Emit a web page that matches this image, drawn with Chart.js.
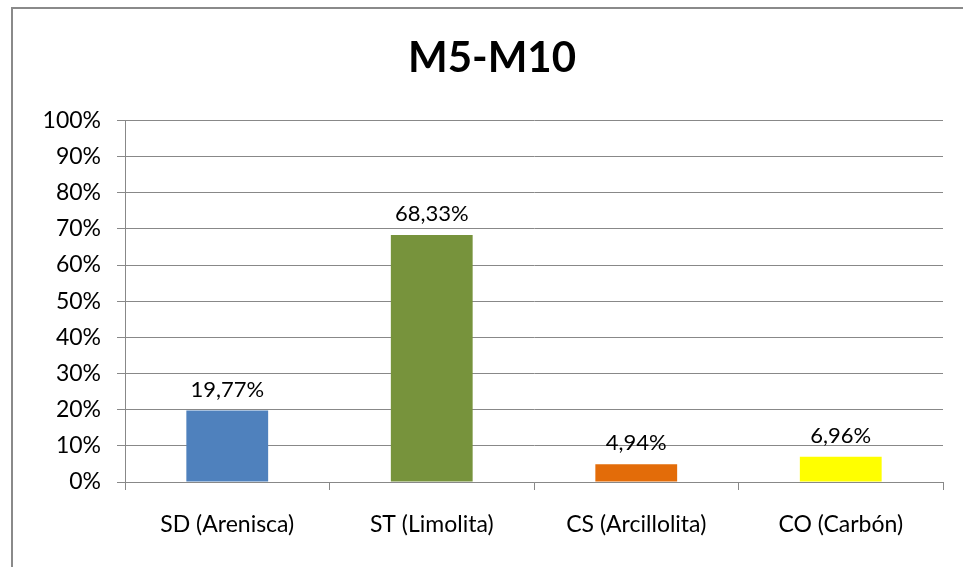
<!DOCTYPE html>
<html>
<head>
<meta charset="utf-8">
<script src="https://cdn.jsdelivr.net/npm/chart.js@4"></script>
<style>
  html, body { margin: 0; padding: 0; background: #fff; }
  #wrap { width: 963px; height: 567px; position: relative; }
</style>
</head>
<body>
<div id="wrap"><canvas id="chart" width="963" height="567"></canvas></div>
<script>
const categories = ['SD (Arenisca)', 'ST (Limolita)', 'CS (Arcillolita)', 'CO (Carbón)'];
const values = [19.77, 68.33, 4.94, 6.96];
const barColors = ['#4F81BD', '#77933C', '#E36C09', '#FFFF00'];
const yTicks = [0, 10, 20, 30, 40, 50, 60, 70, 80, 90, 100];

const fontFamily = 'Lato, "Open Sans", sans-serif';
const gridColor = '#888888';

// frame around the whole chart (the right and bottom edges fall outside the window)
const framePlugin = {
  id: 'frame',
  beforeDraw(chart) {
    const c = chart.ctx;
    c.save();
    c.fillStyle = '#fff';
    c.fillRect(0, 0, chart.width, chart.height);
    c.strokeStyle = '#8a8a8a';
    c.lineWidth = 2;
    c.strokeRect(12, 8, chart.width + 20, chart.height + 20);
    c.restore();
  }
};

// value labels above each bar
const valueLabels = {
  id: 'valueLabels',
  afterDatasetsDraw(chart) {
    const c = chart.ctx;
    const meta = chart.getDatasetMeta(0);
    c.save();
    c.font = '22px ' + fontFamily;
    c.fillStyle = '#000';
    c.textAlign = 'center';
    c.textBaseline = 'alphabetic';
    meta.data.forEach((bar, i) => {
      const txt = values[i].toFixed(2).replace('.', ',') + '%';
      c.fillText(txt, bar.x, bar.y - 14);
    });
    c.restore();
  }
};

new Chart(document.getElementById('chart').getContext('2d'), {
  type: 'bar',
  data: {
    labels: categories,
    datasets: [{
      data: values,
      backgroundColor: barColors,
      borderWidth: 0,
      categoryPercentage: 1,
      barPercentage: 0.4
    }]
  },
  options: {
    responsive: false,
    animation: false,
    layout: { padding: { left: 21, right: 0, top: 0, bottom: 0 } },
    plugins: {
      legend: { display: false },
      tooltip: { enabled: false },
      title: {
        display: true,
        text: 'M5-M10',
        color: '#000',
        font: { family: fontFamily, size: 42, weight: 'bold', lineHeight: 1.2 },
        padding: { top: 33, bottom: 37 }
      }
    },
    scales: {
      x: {
        afterFit(axis) { axis.height = 85; },
        grid: {
          offset: true,
          drawOnChartArea: false,
          drawTicks: true,
          tickLength: 8,
          color: gridColor
        },
        border: { display: true, color: gridColor, width: 1 },
        ticks: {
          color: '#000',
          padding: 21,
          font: { family: fontFamily, size: 23 }
        }
      },
      y: {
        min: 0,
        max: 100,
        afterFit(axis) { axis.width = 104; },
        afterBuildTicks(axis) { axis.ticks = yTicks.map(v => ({ value: v })); },
        grid: {
          color: gridColor,
          drawTicks: true,
          tickLength: 8
        },
        border: { display: true, color: gridColor, width: 1 },
        ticks: {
          color: '#000',
          padding: 16,
          font: { family: fontFamily, size: 23 },
          callback: v => v + '%'
        }
      },
      // empty strip on the right so the plot stops short of the window edge
      yRight: {
        position: 'right',
        min: 0,
        max: 100,
        afterFit(axis) { axis.width = 20; },
        grid: { drawOnChartArea: false, drawTicks: false },
        border: { display: false },
        ticks: { display: false }
      }
    }
  },
  plugins: [framePlugin, valueLabels]
});
</script>
</body>
</html>
